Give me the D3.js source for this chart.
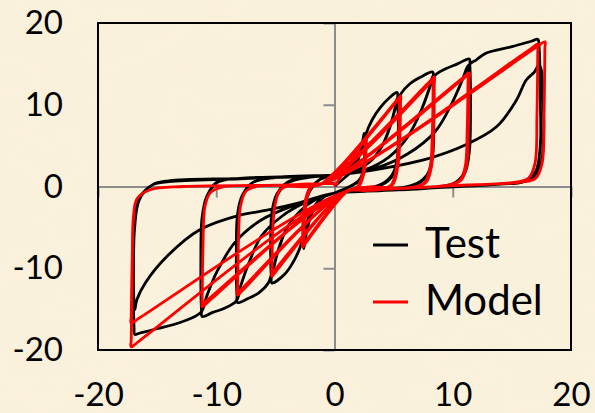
<!DOCTYPE html>
<html lang="en">
<head>
<meta charset="UTF-8">
<title>Test vs Model hysteresis</title>
<script src="https://d3js.org/d3.v7.min.js"></script>
<style>
  html, body { margin: 0; padding: 0; background: #f9efd8; }
  text { font-family: Lato, "Open Sans", sans-serif; fill: #000; }
</style>
</head>
<body>
<div id="chart"></div>
<script>
// chart size
var width = 595, height = 413;

// tick values
var xTicks = [-20, -10, 0, 10, 20];
var yTicks = [-20, -10, 0, 10, 20];
var seriesNames = ["Test", "Model"];
var seriesColors = ["#000000", "#ff0000"];

// test curve, one array per cycle (displacement, force)
var testLoops = [
  [[0,0],[0.8,1.0],[1.4,1.8],[1.9,2.9],[2.2,4.4],[2.4,5.7],[2.5,6.5],[2.53,5.8],
   [2.55,4.0],[2.45,2.0],[2.1,0.8],[1.3,0.0],[0,-0.8],[-0.8,-1.2],[-1.4,-2.0],[-1.95,-3.4],[-2.3,-5.2],[-2.5,-6.7],[-2.6,-7.6]],
  [[-2.63,-6.9],[-2.65,-4.6],[-2.5,-2.2],[-2.1,-0.6],[-1.3,0.8],[0,1.4],[0.8,1.8],[1.4,2.4],[1.9,3.2],[2.2,4.2],[2.4,5.3],[2.5,6.0],[2.53,5.3],
   [2.55,3.7],[2.45,1.8],[2.1,0.7],[1.3,0.0],[0,-0.8],[-0.8,-1.2],[-1.4,-1.9],[-1.95,-3.2],[-2.3,-4.8],[-2.5,-6.2],[-2.6,-7.0]],
  [[-2.63,-6.3],[-2.65,-4.3],[-2.5,-2.1],[-2.1,-0.5],[-1.3,0.8],[0,1.4],[0.8,1.8],[1.4,2.4],[1.9,3.3],[2.3,4.6],[2.6,6.2],[3.2,8.2],[3.9,9.7],[4.6,10.8],[5.3,11.5],[5.35,10.7],
   [5.4,7.0],[5.3,3.4],[4.9,1.5],[4.0,0.3],[2.3,-0.4],[0,-0.8],[-1.0,-1.3],[-1.6,-2.2],[-2.1,-3.4],[-2.5,-5.2],[-2.8,-7.0],[-3.4,-9.0],[-4.2,-10.7],[-5.3,-11.8]],
  [[-5.35,-11.0],[-5.4,-7.2],[-5.3,-3.4],[-4.9,-1.2],[-4.0,0.4],[-2.3,1.1],[0,1.4],[1.6,1.8],[2.9,2.9],[4.0,4.9],[4.7,7.3],[5.1,9.5],[5.3,10.8],[5.35,10.0],
   [5.4,6.6],[5.3,3.2],[4.9,1.3],[4.0,0.2],[2.3,-0.4],[0,-0.8],[-1.6,-1.6],[-2.9,-3.0],[-4.0,-5.0],[-4.7,-7.5],[-5.1,-9.7],[-5.3,-11.0]],
  [[-5.35,-10.2],[-5.4,-6.8],[-5.3,-3.2],[-4.9,-1.0],[-4.0,0.5],[-2.3,1.2],[0,1.4],[1.6,1.8],[2.9,2.9],[4.0,4.9],[4.7,7.4],[5.2,9.8],[5.6,11.3],[6.4,12.6],[7.3,13.4],[8.3,14.0],[8.35,13.2],
   [8.4,8.4],[8.3,4.0],[7.9,1.6],[7.0,0.4],[5.0,-0.3],[2.5,-0.6],[0,-0.8],[-1.6,-1.6],[-2.9,-3.0],[-4.0,-5.0],[-4.7,-7.6],[-5.2,-10.0],[-5.6,-11.8],[-6.4,-13.0],[-7.3,-13.7],[-8.2,-14.2]],
  [[-8.25,-13.4],[-8.3,-8.5],[-8.2,-3.6],[-7.8,-1.2],[-6.9,0.5],[-5.0,1.1],[-2.5,1.3],[0,1.4],[2.5,2.0],[4.6,3.6],[6.2,6.1],[7.3,9.2],[8.0,11.9],[8.3,13.5],[8.35,12.7],
   [8.4,8.1],[8.3,3.8],[7.9,1.5],[7.0,0.3],[5.0,-0.3],[2.5,-0.6],[0,-0.8],[-2.5,-2.0],[-4.5,-3.7],[-6.2,-6.1],[-7.2,-9.2],[-7.9,-12.0],[-8.2,-13.6]],
  [[-8.25,-12.8],[-8.3,-8.2],[-8.2,-3.4],[-7.8,-1.1],[-6.9,0.5],[-5.0,1.1],[-2.5,1.3],[0,1.4],[2.5,2.0],[4.6,3.6],[6.2,6.1],[7.3,9.2],[8.0,11.9],[8.5,13.6],[9.4,14.4],[10.4,15.0],[11.4,15.6],[11.45,14.8],
   [11.5,9.4],[11.4,4.2],[11.0,1.6],[10.1,0.4],[8.0,-0.2],[4.0,-0.5],[0,-0.8],[-2.5,-2.0],[-4.5,-3.7],[-6.2,-6.1],[-7.2,-9.2],[-7.9,-12.0],[-8.3,-14.0],[-9.3,-14.9],[-10.3,-15.4],[-11.2,-15.9]],
  [[-11.25,-15.1],[-11.3,-9.5],[-11.2,-4.0],[-10.8,-1.3],[-9.9,0.5],[-8.0,1.0],[-4.0,1.2],[0,1.4],[3.4,2.2],[6.2,4.0],[8.5,6.7],[9.9,10.1],[10.8,13.0],[11.3,14.8],[11.35,14.0],
   [11.4,8.9],[11.3,4.0],[10.9,1.5],[10.0,0.3],[8.0,-0.2],[4.0,-0.5],[0,-0.8],[-3.4,-2.3],[-6.2,-4.1],[-8.4,-6.8],[-9.9,-10.3],[-10.8,-13.4],[-11.2,-15.2]],
  [[-11.25,-14.4],[-11.3,-9.1],[-11.2,-3.8],[-10.8,-1.2],[-9.9,0.6],[-8.0,1.0],[-4.0,1.2],[0,1.4],[3.4,2.2],[6.2,4.0],[8.5,6.7],[9.9,10.1],[10.8,13.0],[11.4,14.9],[12.0,15.5],[12.8,16.3],[15.0,17.1],[16.7,17.8],[17.2,18.0],[17.3,17.1],
   [17.4,11.0],[17.4,5.0],[17.0,1.8],[16.0,0.6],[14.0,0.3],[8.0,-0.2],[0,-0.8],[-3.4,-2.3],[-6.2,-4.1],[-8.4,-6.8],[-9.9,-10.3],[-10.8,-13.4],[-11.3,-15.4],[-13.0,-16.6],[-15.0,-17.4],[-16.5,-17.95],[-16.9,-18.1]],
  [[-16.95,-17.3],[-17.0,-11.0],[-16.9,-5.0],[-16.5,-1.6],[-15.4,0.2],[-14.0,0.7],[-8.0,1.0],[0,1.4],[4.0,2.2],[8.0,3.45],[11.1,5.1],[13.7,7.3],[15.4,10.6],[16.2,13.0],[16.9,14.0],[17.3,14.9],[17.5,14.2],
   [17.6,12.0],[17.7,7.0],[17.5,3.0],[17.0,1.2],[15.8,0.5],[14.0,0.3],[8.0,-0.2],[0,-0.8],[-3.0,-2.0],[-5.7,-2.9],[-8.0,-3.5],[-11.4,-5.3],[-14.2,-8.6],[-16.0,-11.8],[-16.7,-13.8],[-16.9,-15.1]],
  [[-16.95,-14.4],[-17.0,-9.0],[-16.9,-4.0],[-16.5,-1.4],[-15.4,0.2],[-14.0,0.6],[-8.0,0.95],[0,1.4]]
];

// model curve, one array per cycle
var modelLoops = [
  [[0,0],[2.59,5.76],[2.7,6.0],[2.69,5.3],
   [2.62,3.0],[2.45,1.4],[2.0,-0.1],[1.1,-0.55],[-2.55,-7.13],[-2.7,-7.4]],
  [[-2.69,-6.6],[-2.62,-3.5],[-2.45,-1.6],[-2.0,0.0],[-1.1,0.35],[2.45,5.49],[2.6,5.7],[2.59,5.0],
   [2.52,2.9],[2.35,1.4],[1.9,-0.1],[1.0,-0.6],[-2.46,-6.74],[-2.6,-7.0]],
  [[-2.59,-6.3],[-2.52,-3.5],[-2.35,-1.6],[-1.9,0.0],[-1.0,0.35],[5.34,10.67],[5.6,11.1],[5.59,10.3],
   [5.52,5.6],[5.35,2.4],[4.9,0.2],[4.0,-0.3],[2.5,-0.5],[1.0,-0.6],[-5.05,-10.58],[-5.3,-11.0]],
  [[-5.29,-10.2],[-5.22,-5.5],[-5.05,-2.4],[-4.6,-0.4],[-3.7,0.15],[-2.3,0.3],[-1.0,0.35],[5.24,10.38],[5.5,10.8],[5.49,10.0],
   [5.42,5.4],[5.25,2.4],[4.8,0.2],[3.9,-0.35],[2.5,-0.5],[1.0,-0.6],[-5.05,-10.2],[-5.3,-10.6]],
  [[-5.29,-9.8],[-5.22,-5.3],[-5.05,-2.4],[-4.6,-0.4],[-3.7,0.15],[-2.3,0.3],[-1.0,0.35],[8.07,12.88],[8.45,13.4],[8.44,12.6],
   [8.37,6.7],[8.2,2.4],[7.75,0.5],[6.85,-0.05],[4.0,-0.35],[1.0,-0.6],[-7.83,-12.79],[-8.2,-13.3]],
  [[-8.19,-12.5],[-8.12,-6.6],[-7.95,-2.4],[-7.5,-0.6],[-6.6,0.0],[-4.0,0.2],[-1.0,0.35],[7.98,12.49],[8.35,13.0],[8.34,12.2],
   [8.27,6.5],[8.1,2.4],[7.65,0.5],[6.75,-0.05],[4.0,-0.35],[1.0,-0.6],[-7.83,-12.5],[-8.2,-13.0]],
  [[-8.19,-12.2],[-8.12,-6.5],[-7.95,-2.4],[-7.5,-0.6],[-6.6,0.0],[-4.0,0.2],[-1.0,0.35],[10.9,13.36],[11.4,13.9],[11.39,13.1],
   [11.32,7.0],[11.15,2.4],[10.7,0.75],[9.8,0.2],[6.0,-0.2],[1.0,-0.6],[-10.71,-14.14],[-11.2,-14.7]],
  [[-11.19,-13.9],[-11.12,-7.3],[-10.95,-2.4],[-10.5,-0.75],[-9.6,-0.1],[-5.0,0.15],[-1.0,0.35],[10.81,13.07],[11.3,13.6],[11.29,12.8],
   [11.22,6.8],[11.05,2.4],[10.6,0.75],[9.7,0.2],[6.0,-0.2],[1.0,-0.6],[-10.71,-13.85],[-11.2,-14.4]],
  [[-11.19,-13.6],[-11.12,-7.2],[-10.95,-2.4],[-10.5,-0.75],[-9.6,-0.1],[-5.0,0.15],[-1.0,0.35],[17.05,17.01],[17.8,17.7],[17.79,16.9],
   [17.72,8.8],[17.55,2.8],[17.0,1.0],[15.8,0.55],[10.0,0.1],[5.0,-0.3],[1.0,-0.6],[-16.47,-16.06],[-17.2,-16.7]],
  [[-17.19,-15.9],[-17.1,-8.3],[-17.0,-3.6],[-16.7,-1.5],[-15.6,-0.4],[-12.8,0.0],[-5.0,0.15],[-1.0,0.35],[16.47,16.72],[17.2,17.4],[17.19,16.6],
   [17.12,8.7],[16.95,2.8],[16.4,1.0],[15.2,0.5],[10.0,0.1],[5.0,-0.3],[1.0,-0.6],[-16.47,-18.84],[-17.2,-19.6]],
  [[-17.19,-18.8],[-17.1,-9.8],[-17.0,-3.8],[-16.7,-1.5],[-15.6,-0.4],[-12.8,0.0],[-5.0,0.15],[0,0.4]]
];

var svg = d3.select("#chart").append("svg")
    .attr("width", width)
    .attr("height", height);

// parchment background with a soft mottled texture
var defs = svg.append("defs");
var f = defs.append("filter").attr("id", "paper")
    .attr("x", 0).attr("y", 0).attr("width", "100%").attr("height", "100%");
f.append("feTurbulence").attr("type", "fractalNoise")
    .attr("baseFrequency", "0.012 0.02").attr("numOctaves", 3).attr("seed", 7);
f.append("feColorMatrix").attr("type", "matrix")
    .attr("values", "0 0 0 0 0.93  0 0 0 0 0.86  0 0 0 0 0.70  0 0 0 -1.2 0.75");
f.append("feComposite").attr("in2", "SourceGraphic").attr("operator", "in");

svg.append("rect").attr("width", width).attr("height", height).attr("fill", "#faf1dc");
svg.append("rect").attr("width", width).attr("height", height).attr("fill", "#faf1dc")
    .attr("filter", "url(#paper)").attr("opacity", 0.55);

// scales
var x = d3.scaleLinear().domain([-20, 20]).range([98, 571]);
var y = d3.scaleLinear().domain([-20, 20]).range([350, 23]);

// zero axes with their ticks
var xZero = svg.append("g")
    .attr("transform", "translate(0," + y(0) + ")")
    .call(d3.axisBottom(x).tickValues([-20, -10, 10, 20]).tickSize(11).tickSizeOuter(0).tickFormat(""));
var yZero = svg.append("g")
    .attr("transform", "translate(" + x(0) + ",0)")
    .call(d3.axisLeft(y).tickValues([-20, -10, 10, 20]).tickSize(11).tickSizeOuter(0).tickFormat(""));
[xZero, yZero].forEach(function (g) {
    g.selectAll("path, line").attr("stroke", "#8c8c8c").attr("stroke-width", 2);
});

// curves
var line = d3.line()
    .x(function (d) { return x(d[0]); })
    .y(function (d) { return y(d[1]); })
    .curve(d3.curveCatmullRom.alpha(0.5));

svg.append("path")
    .datum(testLoops.flat())
    .attr("d", line)
    .attr("fill", "none")
    .attr("stroke", seriesColors[0])
    .attr("stroke-width", 2.8)
    .attr("stroke-linejoin", "round");

svg.append("path")
    .datum(modelLoops.flat())
    .attr("d", line)
    .attr("fill", "none")
    .attr("stroke", seriesColors[1])
    .attr("stroke-width", 2.8)
    .attr("stroke-linejoin", "round");

// frame
svg.append("rect")
    .attr("x", x(-20)).attr("y", y(20))
    .attr("width", x(20) - x(-20)).attr("height", y(-20) - y(20))
    .attr("fill", "none").attr("stroke", "#000").attr("stroke-width", 2);

// tick labels
var yLab = svg.append("g")
    .attr("transform", "translate(" + x(-20) + ",0)")
    .call(d3.axisLeft(y).tickValues(yTicks).tickSize(0).tickPadding(35).tickFormat(function (d) { return String(d); }));
var xLab = svg.append("g")
    .attr("transform", "translate(0," + y(-20) + ")")
    .call(d3.axisBottom(x).tickValues(xTicks).tickSize(0).tickFormat(function (d) { return String(d); }));
[yLab, xLab].forEach(function (g) {
    g.select(".domain").remove();
    g.selectAll("text").attr("fill", "#000")
        .style("font-family", "Lato, 'Open Sans', sans-serif").style("font-size", "33px");
});
xLab.selectAll("text").attr("dy", null).attr("y", 56);

// legend
var legend = svg.append("g").selectAll("g")
    .data(seriesNames)
    .join("g")
    .attr("transform", function (d, i) { return "translate(373," + (245 + i * 57) + ")"; });
legend.append("line")
    .attr("x1", 0).attr("x2", 35)
    .attr("stroke", function (d, i) { return seriesColors[i]; })
    .attr("stroke-width", 3);
legend.append("text")
    .attr("x", 52).attr("y", 13)
    .style("font-size", "42px")
    .text(function (d) { return d; });
</script>
</body>
</html>
